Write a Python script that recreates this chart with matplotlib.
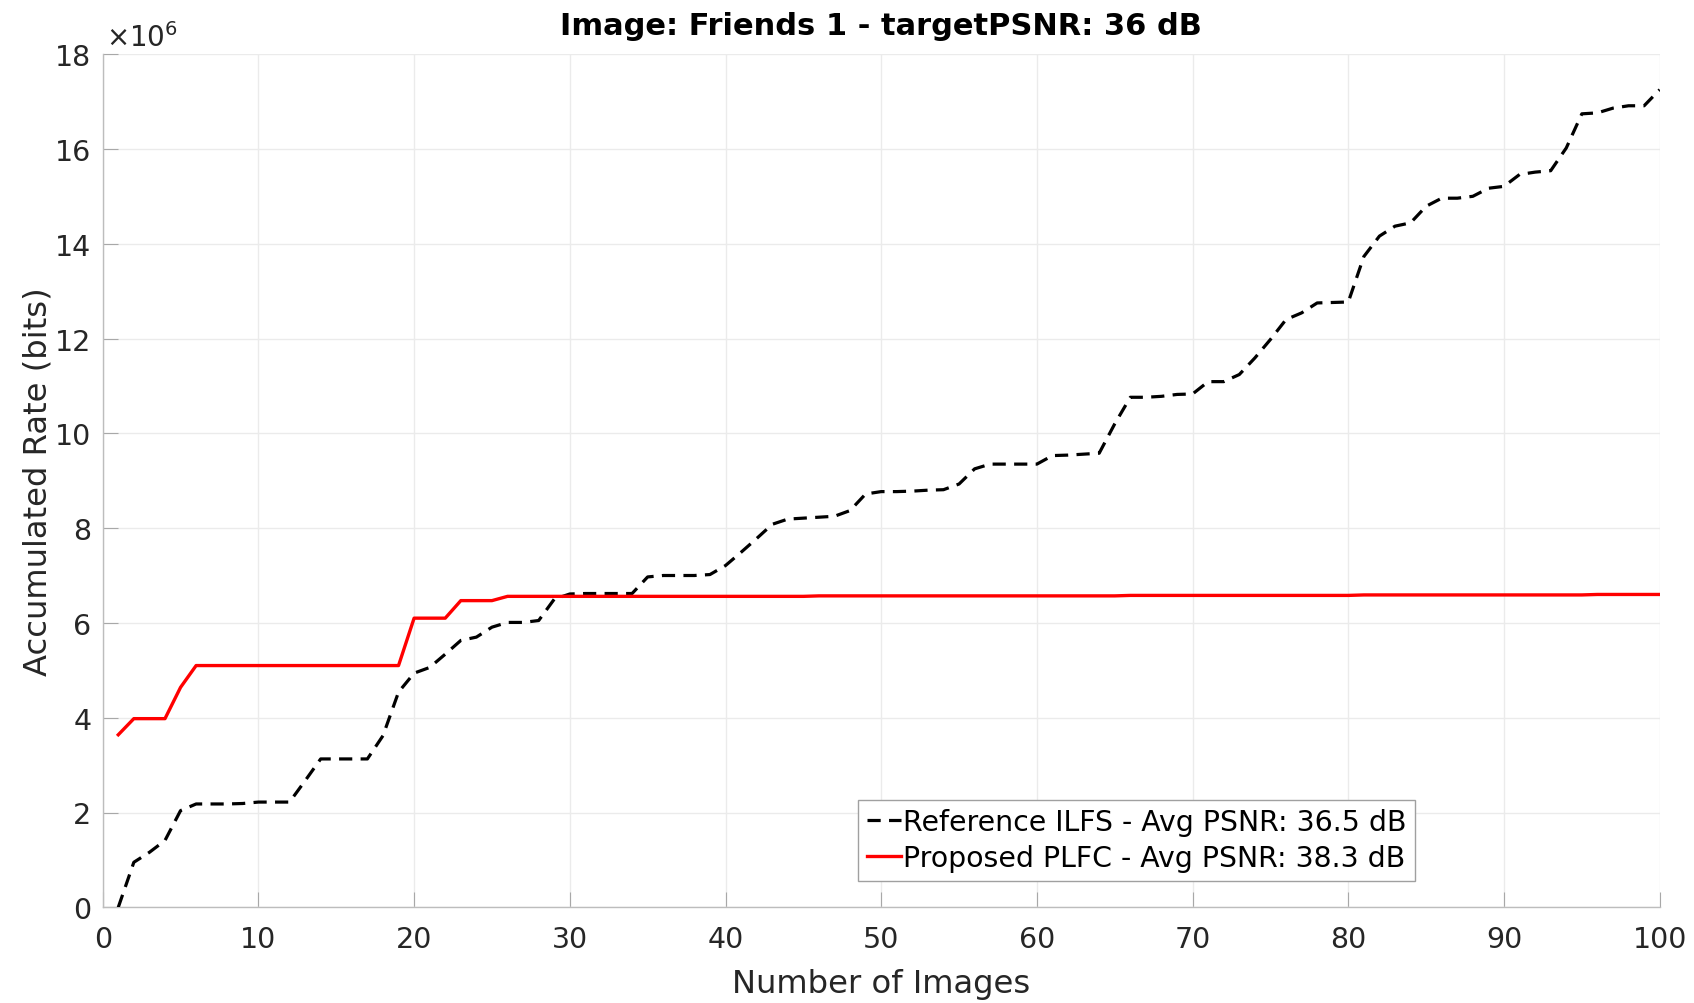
import matplotlib
matplotlib.use("Agg")
import matplotlib.pyplot as plt
from matplotlib.ticker import FuncFormatter, MultipleLocator

plt.rcParams['font.family'] = ['DejaVu Sans']
plt.rcParams['mathtext.fontset'] = 'dejavusans'
plt.rcParams['lines.scale_dashes'] = False

# ---- data (accumulated rate, in units of 1e6 bits) ----
num_images = list(range(1, 101))

reference_ilfs = [
    0.00, 0.95, 1.16, 1.41, 2.04, 2.18, 2.18, 2.18, 2.19, 2.22,
    2.22, 2.22, 2.67, 3.13, 3.13, 3.13, 3.13, 3.62, 4.54, 4.94,
    5.06, 5.34, 5.63, 5.70, 5.91, 6.01, 6.01, 6.05, 6.50, 6.61,
    6.62, 6.62, 6.62, 6.62, 6.97, 7.00, 7.00, 7.00, 7.02, 7.21,
    7.49, 7.78, 8.08, 8.19, 8.21, 8.23, 8.25, 8.37, 8.72, 8.77,
    8.77, 8.78, 8.80, 8.81, 8.93, 9.25, 9.35, 9.35, 9.35, 9.35,
    9.53, 9.54, 9.56, 9.58, 10.20, 10.76, 10.76, 10.78, 10.82, 10.83,
    11.09, 11.09, 11.24, 11.59, 11.98, 12.40, 12.54, 12.75, 12.76, 12.77,
    13.73, 14.16, 14.37, 14.44, 14.79, 14.96, 14.96, 15.00, 15.17, 15.21,
    15.46, 15.51, 15.54, 16.02, 16.74, 16.76, 16.86, 16.91, 16.91, 17.25,
]

proposed_plfc = [
    3.64, 3.98, 3.98, 3.98, 4.64, 5.10, 5.10, 5.10, 5.10, 5.10,
    5.10, 5.10, 5.10, 5.10, 5.10, 5.10, 5.10, 5.10, 5.10, 6.10,
    6.10, 6.10, 6.47, 6.47, 6.47, 6.56, 6.56, 6.56, 6.56, 6.56,
    6.56, 6.56, 6.56, 6.56, 6.56, 6.56, 6.56, 6.56, 6.56, 6.56,
    6.56, 6.56, 6.56, 6.56, 6.56, 6.57, 6.57, 6.57, 6.57, 6.57,
    6.57, 6.57, 6.57, 6.57, 6.57, 6.57, 6.57, 6.57, 6.57, 6.57,
    6.57, 6.57, 6.57, 6.57, 6.57, 6.58, 6.58, 6.58, 6.58, 6.58,
    6.58, 6.58, 6.58, 6.58, 6.58, 6.58, 6.58, 6.58, 6.58, 6.58,
    6.59, 6.59, 6.59, 6.59, 6.59, 6.59, 6.59, 6.59, 6.59, 6.59,
    6.59, 6.59, 6.59, 6.59, 6.59, 6.60, 6.60, 6.60, 6.60, 6.60,
]

labels = ["Reference ILFS - Avg PSNR: 36.5 dB",
          "Proposed PLFC - Avg PSNR: 38.3 dB"]
title = "Image: Friends 1 - targetPSNR: 36 dB"
xlabel = "Number of Images"
ylabel = "Accumulated Rate (bits)"
scale = 1e6

W, H = 1694, 1004
fig = plt.figure(figsize=(W / 100, H / 100), dpi=100)
ax_l, ax_r, ax_b, ax_t = 102.7, 1659.7, 908.3, 55.1
ax = fig.add_axes([ax_l / W, 1 - ax_b / H, (ax_r - ax_l) / W, (ax_b - ax_t) / H])

ref_bits = [v * scale for v in reference_ilfs]
prop_bits = [v * scale for v in proposed_plfc]

ax.plot(num_images, ref_bits, color='black', linewidth=2.3, linestyle=(0, (9.5, 6.0)),
        dash_capstyle='butt', label=labels[0], zorder=3)
ax.plot(num_images, prop_bits, color='#ff0000', linewidth=2.4, label=labels[1], zorder=3)

ax.set_xlim(0, 100)
ax.set_ylim(0, 18 * scale)
ax.xaxis.set_major_locator(MultipleLocator(10))
ax.yaxis.set_major_locator(MultipleLocator(2 * scale))
ax.yaxis.set_major_formatter(FuncFormatter(lambda v, p: f"{v / scale:g}"))

ax.grid(True, color='#ebebeb', linewidth=1.0, zorder=0)
ax.set_axisbelow(True)
for s in ['top', 'right']:
    ax.spines[s].set_visible(False)
for s in ['left', 'bottom']:
    ax.spines[s].set_color('#bdbdbd')
    ax.spines[s].set_linewidth(1.0)

ax.tick_params(axis='both', direction='in', length=10.8, width=0.8, color='#a8a8a8',
               labelsize=20.5, labelcolor='#262626')
ax.tick_params(axis='x', pad=13)
ax.tick_params(axis='y', pad=8)

ax.set_title(title, fontsize=22, fontweight='bold', pad=14.5, color='black')

fig.text(881.2 / W, 1 - 993 / H, xlabel, ha='center', va='baseline',
         fontsize=23.2, color='#262626')
fig.text(46.5 / W, 1 - 481.7 / H, ylabel, ha='center', va='baseline',
         rotation=90, rotation_mode='anchor', fontsize=23.2, color='#262626')
fig.text(106 / W, 1 - 46.7 / H, r'$\times10^{6}$', ha='left', va='baseline',
         fontsize=20, color='#262626')

leg = ax.legend(loc='lower left', bbox_to_anchor=(0.4854, 0.0312), borderaxespad=0,
                fontsize=20.4, handlelength=1.2, handletextpad=0.08, borderpad=0.3,
                labelspacing=0.28, fancybox=False, framealpha=1, edgecolor='#a0a0a0')
leg.get_frame().set_linewidth(1.0)
for t in leg.get_texts():
    t.set_color('black')

fig.savefig("out.png", dpi=100, facecolor='white')
